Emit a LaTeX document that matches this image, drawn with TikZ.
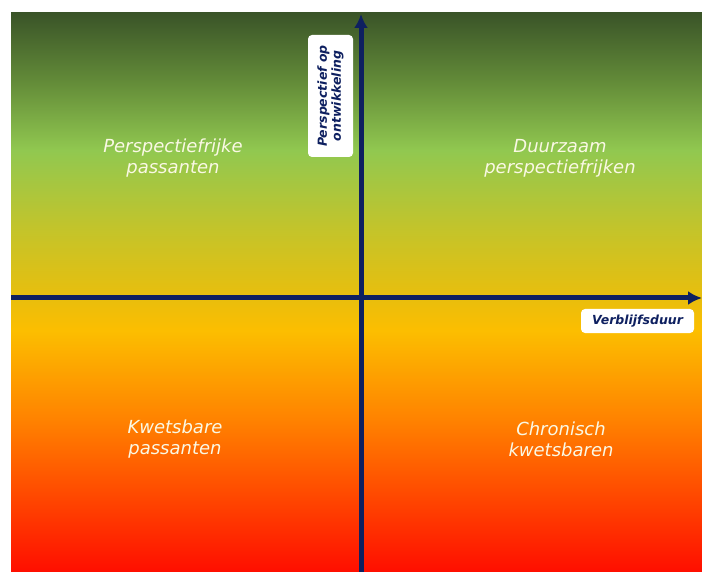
\documentclass[tikz,border=0pt]{standalone}
\usepackage{fontspec}
\setmainfont{DejaVu Sans}
\usetikzlibrary{arrows.meta,positioning}
\definecolor{axisblue}{RGB}{14,32,96}
\definecolor{labelwhite}{RGB}{250,248,228}
\definecolor{gA}{RGB}{58,84,40}
\definecolor{gB}{RGB}{98,138,56}
\definecolor{gC}{RGB}{145,200,80}
\definecolor{gD}{RGB}{196,196,42}
\definecolor{gE}{RGB}{234,190,12}
\definecolor{gF}{RGB}{252,190,0}
\definecolor{gG}{RGB}{255,130,0}
\definecolor{gH}{RGB}{255,14,0}
% bottom of the box = 25bp, top = 75bp
\pgfdeclareverticalshading{quadfill}{100bp}{color(0bp)=(gH); color(25bp)=(gH);
  color(38.6bp)=(gG); color(46.6bp)=(gF); color(49.3bp)=(gE); color(55.6bp)=(gD);
  color(62.7bp)=(gC); color(69bp)=(gB); color(75bp)=(gA); color(100bp)=(gA)}
\tikzset{
  axis/.style={draw=axisblue,line width=5pt,-{Latex[length=14pt,width=14pt]}},
  quadtext/.style={text=labelwhite,align=center,font=\fontsize{18}{21}\selectfont\itshape},
  axislabel/.style={fill=white,rounded corners=4pt,text=axisblue,align=center,
    font=\fontsize{12.5}{14}\selectfont\bfseries\itshape,inner sep=2pt}
}
\begin{document}
\begin{tikzpicture}[x=1pt,y=-1pt]
	\useasboundingbox[fill=white] (0,0) rectangle (702,572);
	\shade[shading=quadfill] (11,13) rectangle (702,572);
	% axes
	\coordinate (left) at (11,298);
	\coordinate (right) at (702,298);
	\coordinate (bottom) at (361,572);
	\coordinate (top) at (361,14);
	\draw[axis] (left) -- (right);
	\draw[axis] (bottom) -- (top);
	\node[axislabel,rotate=90,minimum width=122pt,minimum height=45pt] (ylabel) at (330.5,96) {Perspectief op\\ontwikkeling};
	\node[axislabel,minimum width=113pt,minimum height=24pt] (xlabel) at (637.5,321) {Verblijfsduur};
	% quadrants
	\node[quadtext] (pp) at (173,158) {Perspectiefrijke\\passanten};
	\node[quadtext] (dp) at (560,158) {Duurzaam\\perspectiefrijken};
	\node[quadtext] (kp) at (175,439) {Kwetsbare\\passanten};
	\node[quadtext] (ck) at (561,439) {Chronisch\\kwetsbaren};
\end{tikzpicture}
\end{document}
